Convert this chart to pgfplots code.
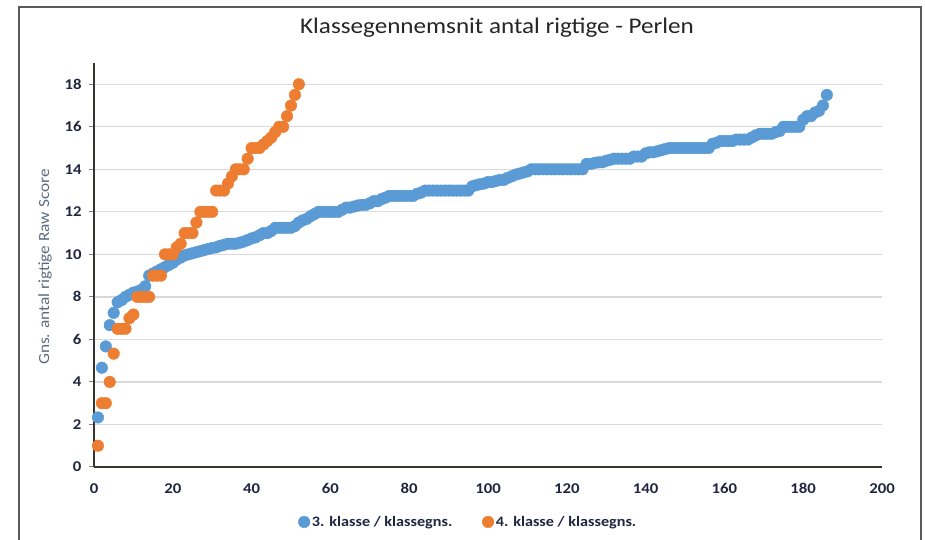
\documentclass[border=0pt]{standalone}
\usepackage{pgfplots}
\pgfplotsset{compat=1.18}
\usepackage{fontspec}
\setmainfont{Carlito}[FakeStretch=1.12]
\definecolor{cblue}{HTML}{5B9BD5}
\definecolor{corange}{HTML}{ED7D31}
\definecolor{tickc}{HTML}{1F2640}
\definecolor{gridc}{HTML}{D9D9D9}
\definecolor{axc}{HTML}{3A3430}
\definecolor{labc}{HTML}{5A6B80}
\pgfplotstableread{
x y
1 2.33
2 4.67
3 5.67
4 6.67
5 7.25
6 7.75
7 7.85
8 8.0
9 8.1
10 8.2
11 8.25
12 8.33
13 8.5
14 9.0
15 9.1
16 9.2
17 9.3
18 9.4
19 9.5
20 9.6
21 9.75
22 9.85
23 9.95
24 10.0
25 10.05
26 10.1
27 10.15
28 10.2
29 10.25
30 10.3
31 10.33
32 10.4
33 10.45
34 10.5
35 10.5
36 10.5
37 10.55
38 10.6
39 10.67
40 10.75
41 10.8
42 10.9
43 11.0
44 11.0
45 11.1
46 11.25
47 11.25
48 11.25
49 11.25
50 11.25
51 11.33
52 11.5
53 11.6
54 11.67
55 11.8
56 11.9
57 12.0
58 12.0
59 12.0
60 12.0
61 12.0
62 12.0
63 12.1
64 12.2
65 12.2
66 12.25
67 12.3
68 12.33
69 12.33
70 12.4
71 12.5
72 12.5
73 12.6
74 12.67
75 12.75
76 12.75
77 12.75
78 12.75
79 12.75
80 12.75
81 12.75
82 12.85
83 12.9
84 13.0
85 13.0
86 13.0
87 13.0
88 13.0
89 13.0
90 13.0
91 13.0
92 13.0
93 13.0
94 13.0
95 13.0
96 13.2
97 13.25
98 13.3
99 13.33
100 13.4
101 13.4
102 13.45
103 13.5
104 13.5
105 13.6
106 13.67
107 13.75
108 13.8
109 13.85
110 13.9
111 14.0
112 14.0
113 14.0
114 14.0
115 14.0
116 14.0
117 14.0
118 14.0
119 14.0
120 14.0
121 14.0
122 14.0
123 14.0
124 14.0
125 14.25
126 14.25
127 14.3
128 14.33
129 14.33
130 14.4
131 14.45
132 14.5
133 14.5
134 14.5
135 14.5
136 14.5
137 14.6
138 14.6
139 14.6
140 14.75
141 14.8
142 14.8
143 14.85
144 14.9
145 14.95
146 15.0
147 15.0
148 15.0
149 15.0
150 15.0
151 15.0
152 15.0
153 15.0
154 15.0
155 15.0
156 15.0
157 15.2
158 15.25
159 15.33
160 15.33
161 15.33
162 15.33
163 15.4
164 15.4
165 15.4
166 15.4
167 15.5
168 15.6
169 15.67
170 15.67
171 15.67
172 15.67
173 15.75
174 15.8
175 16.0
176 16.0
177 16.0
178 16.0
179 16.0
180 16.33
181 16.5
182 16.5
183 16.67
184 16.75
185 17.0
186 17.5
}\bluedata
\pgfplotstableread{
x y
1 1
2 3
3 3
4 4
5 5.33
6 6.5
7 6.5
8 6.5
9 7
10 7.17
11 8
12 8
13 8
14 8
15 9
16 9
17 9
18 10
19 10
20 10
21 10.33
22 10.5
23 11
24 11
25 11
26 11.5
27 12
28 12
29 12
30 12
31 13
32 13
33 13
34 13.33
35 13.67
36 14
37 14
38 14
39 14.5
40 15
41 15
42 15
43 15.17
44 15.33
45 15.5
46 15.75
47 16
48 16
49 16.5
50 17
51 17.5
52 18
}\orangedata
\begin{document}
\begin{tikzpicture}[x=1bp,y=1bp]
\useasboundingbox (0,0) rectangle (925,540);
\draw[line width=1.5bp, black!65] (19,-5) -- (19,533) -- (921,533) -- (921,-5);
\node[font=\fontsize{22.5}{26}\selectfont, text=black!85] at (497,512) {Klassegennemsnit antal rigtige - Perlen};
\node[rotate=90, font=\fontsize{15.5}{18}\selectfont, text=labc] at (45,273) {Gns. antal rigtige Raw Score};
\begin{axis}[
  at={(94bp,73bp)}, anchor=south west,
  scale only axis, width=788bp, height=404bp,
  xmin=0, xmax=200, ymin=0, ymax=19,
  xtick={0,20,...,200}, ytick={0,2,...,18},
  axis x line*=bottom, axis y line*=left,
  axis line style={-, line width=2.5bp, draw=axc},
  tick align=outside, major tick length=5bp,
  xtick style={draw=none},
  ytick style={draw=gray, line width=1bp},
  ymajorgrids, grid style={draw=gridc, line width=1.3bp},
  /pgf/number format/assume math mode=true,
  ticklabel style={font=\bfseries\fontsize{15}{17}\selectfont, text=tickc},
  yticklabel style={xshift=-4bp},
  xticklabel style={yshift=-8bp},
  legend style={at={(0.475,-0.136)}, anchor=center, draw=none, fill=none,
    legend columns=2, font=\bfseries\fontsize{14.5}{17}\selectfont, text=tickc,
    /tikz/every even column/.append style={column sep=28bp}},
  legend cell align=left,
]
\addplot[only marks, mark=*, mark size=5.8bp, draw=cblue, fill=cblue, mark options={draw=cblue, fill=cblue}] table {\bluedata};
\addlegendentry{3. klasse / klassegns.}
\addplot[only marks, mark=*, mark size=5.8bp, draw=corange, fill=corange, mark options={draw=corange, fill=corange}] table {\orangedata};
\addlegendentry{4. klasse / klassegns.}
\end{axis}
\end{tikzpicture}
\end{document}
